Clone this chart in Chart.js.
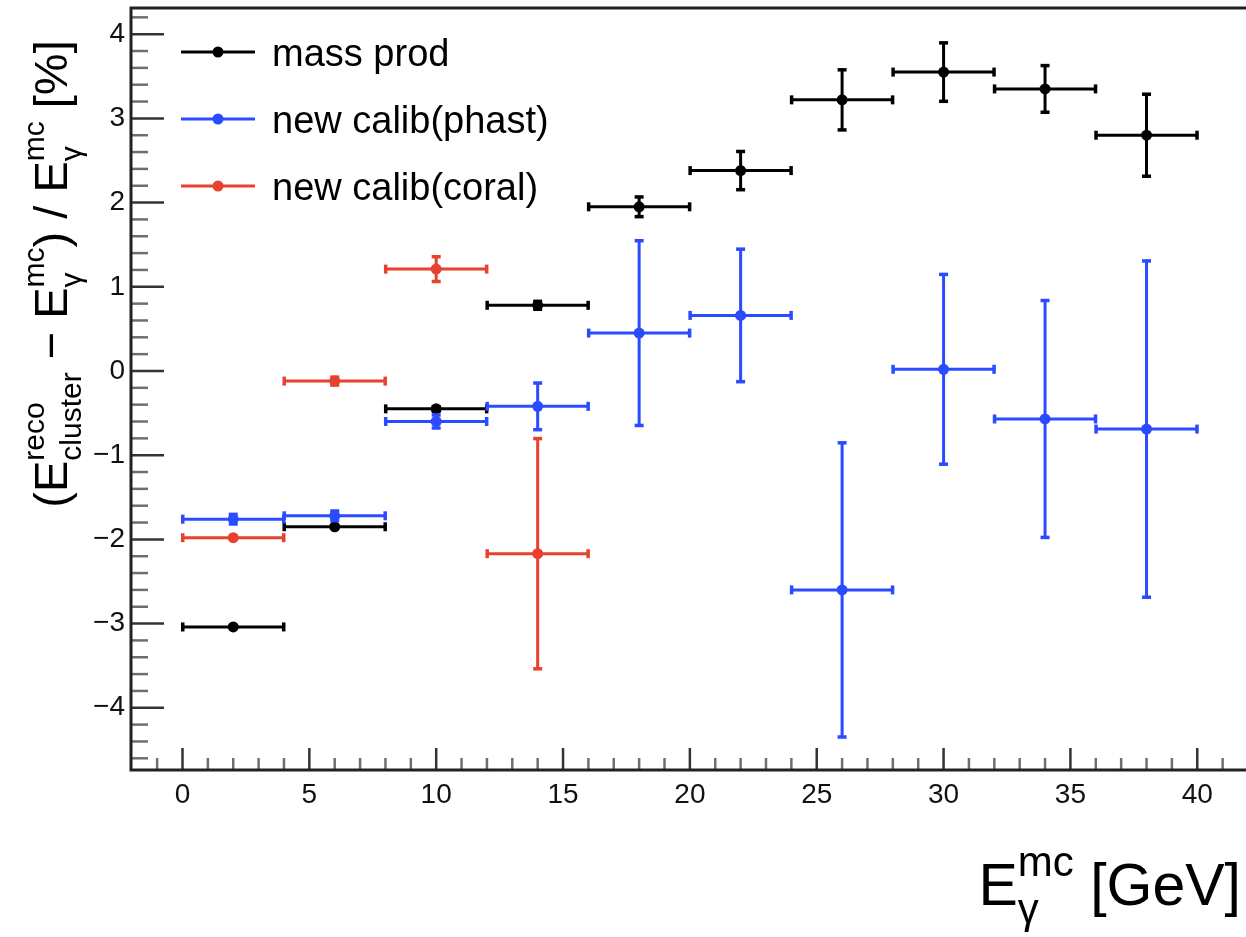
<!DOCTYPE html>
<html>
<head>
<meta charset="utf-8">
<script src="https://cdn.jsdelivr.net/npm/chart.js@4/dist/chart.umd.min.js"></script>
<style>
  html, body { margin: 0; padding: 0; background: #fff; overflow: hidden; width: 1246px; height: 937px; }
  #wrap { position: relative; width: 1280px; height: 937px; }
</style>
</head>
<body>
<div id="wrap"><canvas id="c" width="1280" height="937"></canvas></div>
<script>
// Photon energy bins (GeV): centre and half width
const binCenters = [2, 6, 10, 14, 18, 22, 26, 30, 34, 38];
const binHalfWidth = 2;

// Relative energy deviation (%) per bin, with symmetric errors
const massProd    = [-3.04, -1.85, -0.45, 0.78, 1.95, 2.38, 3.22, 3.55, 3.35, 2.80];
const massProdErr = [0.00, 0.00, 0.03, 0.05, 0.12, 0.23, 0.36, 0.35, 0.28, 0.49];

const phast    = [-1.76, -1.72, -0.60, -0.42, 0.45, 0.66, -2.60, 0.02, -0.57, -0.69];
const phastErr = [0.06, 0.06, 0.08, 0.28, 1.10, 0.79, 1.75, 1.13, 1.41, 2.00];

const coralCenters = [2, 6, 10, 14];
const coral    = [-1.98, -0.12, 1.21, -2.17];
const coralErr = [0.00, 0.05, 0.15, 1.37];

const seriesNames = ['mass prod', 'new calib(phast)', 'new calib(coral)'];
const seriesColors = ['#000000', '#2A4BFF', '#E8412F'];

const xMajorTicks = [0, 5, 10, 15, 20, 25, 30, 35, 40];
const yMajorTicks = [-4, -3, -2, -1, 0, 1, 2, 3, 4];

const FONT = "'Liberation Sans', Arial, Helvetica, sans-serif";

function points(xs, ys, es) {
  return xs.map((x, i) => ({ x: x, y: ys[i], ex: binHalfWidth, ey: es[i] }));
}

function minus(v) {
  return v < 0 ? '\u2212' + Math.abs(v) : String(v);
}

// Error bars with end caps, drawn just below each dataset's markers
const errorBars = {
  id: 'errorBars',
  beforeDatasetDraw(chart, args) {
    const ds = chart.data.datasets[args.index];
    const { ctx } = chart;
    const xs = chart.scales.x, ys = chart.scales.y;
    ctx.save();
    ctx.strokeStyle = ds.backgroundColor;
    ctx.fillStyle = ds.backgroundColor;
    ctx.lineWidth = 3;
    ds.data.forEach(p => {
      const px = xs.getPixelForValue(p.x), py = ys.getPixelForValue(p.y);
      const xl = xs.getPixelForValue(p.x - p.ex), xr = xs.getPixelForValue(p.x + p.ex);
      const yt = ys.getPixelForValue(p.y + p.ey), yb = ys.getPixelForValue(p.y - p.ey);
      ctx.beginPath();
      ctx.moveTo(xl, py); ctx.lineTo(xr, py);
      ctx.stroke();
      ctx.fillRect(xl - 1.5, py - 4.5, 3.5, 9);
      ctx.fillRect(xr - 2, py - 4.5, 3.5, 9);
      if (py - yt > 1.5) {
        ctx.beginPath();
        ctx.moveTo(px, yt); ctx.lineTo(px, yb);
        ctx.stroke();
        ctx.fillRect(px - 4.5, yt - 1.5, 9, 3.5);
        ctx.fillRect(px - 4.5, yb - 2, 9, 3.5);
      }
    });
    ctx.restore();
  }
};

// Frame with inward ticks (major + minor) on both axes
const frameTicks = {
  id: 'frameTicks',
  beforeDatasetsDraw(chart) {
    const { ctx, chartArea: a } = chart;
    const xs = chart.scales.x, ys = chart.scales.y;
    ctx.save();
    ctx.lineWidth = 2.5;
    // x ticks every 1, major every 5
    for (let v = -2; v <= 42; v++) {
      const px = xs.getPixelForValue(v);
      if (px < a.left + 2 || px > a.right - 2) continue;
      const major = v % 5 === 0;
      ctx.strokeStyle = major ? '#333' : '#6e6e6e';
      ctx.beginPath();
      ctx.moveTo(px, a.bottom);
      ctx.lineTo(px, a.bottom - (major ? 22 : 12));
      ctx.stroke();
    }
    // y ticks every 0.2, major every 1
    for (let k = -24; k <= 22; k++) {
      const v = k / 5;
      const py = ys.getPixelForValue(v);
      if (py < a.top + 2 || py > a.bottom - 2) continue;
      const major = k % 5 === 0;
      ctx.strokeStyle = major ? '#333' : '#6e6e6e';
      ctx.beginPath();
      ctx.moveTo(a.left, py);
      ctx.lineTo(a.left + (major ? 33 : 17), py);
      ctx.stroke();
    }
    ctx.strokeStyle = '#222';
    ctx.lineWidth = 3;
    ctx.strokeRect(a.left, a.top, a.right - a.left, a.bottom - a.top);
    ctx.restore();
  }
};

// Rich text helper: runs of plain text and stacked super/subscripts
function richWidth(ctx, parts, main, script) {
  let w = 0;
  parts.forEach(p => {
    if (p.t !== undefined) { ctx.font = main + 'px ' + FONT; w += ctx.measureText(p.t).width; }
    else {
      ctx.font = script + 'px ' + FONT;
      w += Math.max(p.sup ? ctx.measureText(p.sup).width : 0, p.sub ? ctx.measureText(p.sub).width : 0);
    }
  });
  return w;
}
function drawRich(ctx, parts, main, script, x, y) {
  ctx.textBaseline = 'alphabetic';
  ctx.textAlign = 'left';
  parts.forEach(p => {
    if (p.t !== undefined) {
      ctx.font = main + 'px ' + FONT;
      ctx.fillText(p.t, x, y);
      x += ctx.measureText(p.t).width;
    } else {
      ctx.font = script + 'px ' + FONT;
      const supRaise = p.sub ? main * 0.5 : main * 0.38;
      let w = 0;
      if (p.sup) { ctx.fillText(p.sup, x, y - supRaise); w = ctx.measureText(p.sup).width; }
      if (p.sub) { ctx.fillText(p.sub, x, y + main * 0.3); w = Math.max(w, ctx.measureText(p.sub).width); }
      x += w;
    }
  });
}

const yTitle = [
  { t: '(E' }, { sup: 'reco', sub: 'cluster' }, { t: ' \u2212 E' }, { sup: 'mc', sub: '\u03b3' },
  { t: ') / E' }, { sup: 'mc', sub: '\u03b3' }, { t: ' [%]' }
];
const xTitle = [{ t: 'E' }, { sup: 'mc', sub: '\u03b3' }, { t: ' [GeV]' }];

const axisTitles = {
  id: 'axisTitles',
  afterDraw(chart) {
    const { ctx } = chart;
    ctx.save();
    ctx.fillStyle = '#000';
    // vertical title, centred along the left side
    const wy = richWidth(ctx, yTitle, 47, 30);
    ctx.translate(67, 274 + wy / 2);
    ctx.rotate(-Math.PI / 2);
    drawRich(ctx, yTitle, 47, 30, 0, 0);
    ctx.restore();

    ctx.save();
    ctx.fillStyle = '#000';
    const wx = richWidth(ctx, xTitle, 59, 42);
    drawRich(ctx, xTitle, 59, 42, 1241 - wx, 905);
    ctx.restore();
  }
};

// Legend in the upper-left corner of the frame
const cornerLegend = {
  id: 'cornerLegend',
  afterDraw(chart) {
    const { ctx } = chart;
    ctx.save();
    chart.data.datasets.forEach((ds, i) => {
      const yRow = 52 + i * 67;
      ctx.strokeStyle = ds.backgroundColor;
      ctx.fillStyle = ds.backgroundColor;
      ctx.lineWidth = 3;
      ctx.beginPath();
      ctx.moveTo(181, yRow); ctx.lineTo(255, yRow);
      ctx.stroke();
      ctx.beginPath();
      ctx.arc(218, yRow, 5.5, 0, Math.PI * 2);
      ctx.fill();
      ctx.fillStyle = '#000';
      ctx.font = '38px ' + FONT;
      ctx.textBaseline = 'alphabetic';
      ctx.fillText(ds.label, 272, yRow + 14);
    });
    ctx.restore();
  }
};

const datasets = [
  { label: seriesNames[0], data: points(binCenters, massProd, massProdErr), order: 2 },
  { label: seriesNames[1], data: points(binCenters, phast, phastErr), order: 1 },
  { label: seriesNames[2], data: points(coralCenters, coral, coralErr), order: 0 }
].map((d, i) => Object.assign(d, {
  backgroundColor: seriesColors[i],
  borderColor: seriesColors[i],
  pointRadius: 5.5,
  pointBorderWidth: 0,
  pointHoverRadius: 5.5,
  showLine: false
}));

new Chart(document.getElementById('c'), {
  type: 'scatter',
  data: { datasets },
  options: {
    responsive: false,
    animation: false,
    events: [],
    layout: { padding: { left: 0, top: 8, right: 32, bottom: 0 } },
    plugins: { legend: { display: false }, tooltip: { enabled: false } },
    scales: {
      x: {
        type: 'linear', min: -2.03, max: 42,
        grid: { display: false, drawTicks: false },
        border: { display: false },
        afterBuildTicks: s => { s.ticks = xMajorTicks.map(v => ({ value: v })); },
        afterFit: s => { s.height = 167; s.paddingLeft = 0; s.paddingRight = 0; },
        ticks: { font: { family: FONT, size: 28 }, color: '#111', padding: 8, maxRotation: 0, autoSkip: false,
                 callback: v => minus(v) }
      },
      y: {
        type: 'linear', min: -4.739, max: 4.311,
        grid: { display: false, drawTicks: false },
        border: { display: false },
        afterBuildTicks: s => { s.ticks = yMajorTicks.map(v => ({ value: v })); },
        afterFit: s => { s.width = 131; s.paddingTop = 0; s.paddingBottom = 0; },
        ticks: { font: { family: FONT, size: 28 }, color: '#111', padding: 6, autoSkip: false,
                 callback: v => minus(v) }
      }
    }
  },
  plugins: [frameTicks, errorBars, axisTitles, cornerLegend]
});
</script>
</body>
</html>
